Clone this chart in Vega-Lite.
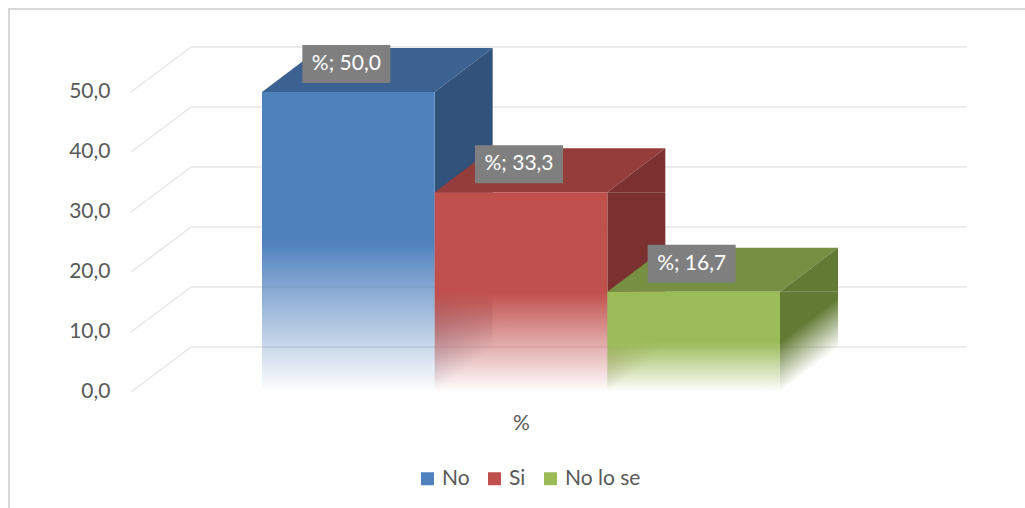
{
  "$schema": "https://vega.github.io/schema/vega-lite/v6.json",
  "width": 1018,
  "height": 501,
  "autosize": {"type": "none"},
  "padding": {"left": 9, "top": 9, "right": -2, "bottom": -2},
  "background": "white",
  "config": {
    "font": "Lato",
    "view": {"stroke": "#D9D9D9", "strokeWidth": 2},
    "axis": {
      "labelFont": "Lato", "titleFont": "Lato",
      "labelColor": "#595959", "titleColor": "#595959",
      "labelFontSize": 21, "titleFontSize": 21, "titleFontWeight": "normal",
      "grid": false, "domain": false, "ticks": false
    },
    "legend": {"labelFont": "Lato", "labelFontSize": 21, "labelColor": "#595959"}
  },
  "datasets": {
    "respuestas": [
      {"serie": "No", "valor": 50.0},
      {"serie": "Si", "valor": 33.3},
      {"serie": "No lo se", "valor": 16.7}
    ],
    "rejilla": [{"v": 0}, {"v": 10}, {"v": 20}, {"v": 30}, {"v": 40}, {"v": 50}]
  },
  "resolve": {"scale": {"x": "independent"}},
  "layer": [
    {
      "data": {"name": "rejilla"},
      "layer": [
        {
          "mark": {"type": "rule", "color": "#E6E6E6", "strokeWidth": 1.5, "y2Offset": -45},
          "encoding": {
            "x": {"datum": -0.7587, "type": "quantitative", "scale": {"domain": [-1.4652, 4.4304], "nice": false, "zero": false}, "axis": null},
            "x2": {"datum": -0.4112},
            "y": {"field": "v", "type": "quantitative", "scale": {"domain": [-19.6667, 63.8333], "nice": false, "zero": false},
                  "axis": {"values": [0, 10, 20, 30, 40, 50], "format": ".1f", "labelExpr": "replace(datum.label, '.', ',')", "title": null, "offset": -101, "labelPadding": 0}},
            "y2": {"field": "v"}
          }
        },
        {
          "mark": {"type": "rule", "color": "#E6E6E6", "strokeWidth": 1.5, "yOffset": -45, "y2Offset": -45},
          "encoding": {
            "x": {"datum": -0.4112, "type": "quantitative"},
            "x2": {"datum": 4.083},
            "y": {"field": "v", "type": "quantitative"},
            "y2": {"field": "v"}
          }
        }
      ]
    },
    {
      "data": {"name": "respuestas"},
      "transform": [{"calculate": "'%; ' + replace(format(datum.valor, '.1f'), '.', ',')", "as": "etiqueta"}],
      "encoding": {
        "x": {"field": "serie", "type": "nominal", "sort": ["No", "Si", "No lo se"],
              "scale": {"type": "band", "domain": ["No", "Si", "No lo se"], "paddingInner": 0, "paddingOuter": 0, "range": [253, 771]},
              "axis": {"orient": "bottom", "labels": false, "title": "%", "offset": -118, "titlePadding": 20}},
        "y": {"field": "valor", "type": "quantitative"}
      },
      "layer": [
        {
          "transform": [{"filter": "datum.serie === 'No'"}],
          "layer": [
            {"mark": {"type": "point", "shape": "M-86.33,0L86.33,0L144.33,-44L-28,-44Z", "size": 4, "filled": true, "opacity": 1, "color": "#3B6290", "strokeWidth": 0}},
            {"mark": {"type": "bar", "width": 58, "xOffset": 115.33, "y2Offset": -44,
                      "color": {"gradient": "linear", "x1": 0, "y1": 0, "x2": 0.1957, "y2": 1.1383, "stops": [{"offset": 0, "color": "#31527A"}, {"offset": 0.5, "color": "#31527A"}, {"offset": 1, "color": "rgba(49,82,122,0)"}]}},
             "encoding": {"y2": {"datum": 0}}},
            {"mark": {"type": "point", "shape": "M86.33,-44L86.33,0L144.33,-44Z", "size": 4, "filled": true, "opacity": 1, "strokeWidth": 0,
                      "color": {"gradient": "linear", "x1": 0, "y1": 0, "x2": 0.5, "y2": 0.5, "stops": [{"offset": 0, "color": "rgba(49,82,122,0.29)"}, {"offset": 1, "color": "rgba(49,82,122,0)"}]}},
             "encoding": {"y": {"datum": 0}}},
            {"mark": {"type": "point", "shape": "M86.33,0L144.33,-44L144.33,0Z", "size": 4, "filled": true, "opacity": 1, "color": "#31527A", "strokeWidth": 0}},
            {"mark": {"type": "bar",
                      "color": {"gradient": "linear", "x1": 0, "y1": 0, "x2": 0, "y2": 1, "stops": [{"offset": 0, "color": "#4F81BD"}, {"offset": 0.5, "color": "#4F81BD"}, {"offset": 1, "color": "rgba(79,129,189,0)"}]}},
             "encoding": {"y2": {"datum": 0}}}
          ]
        },
        {
          "transform": [{"filter": "datum.serie === 'Si'"}],
          "layer": [
            {"mark": {"type": "point", "shape": "M-86.33,0L86.33,0L144.33,-44L-28,-44Z", "size": 4, "filled": true, "opacity": 1, "color": "#943D3B", "strokeWidth": 0}},
            {"mark": {"type": "bar", "width": 58, "xOffset": 115.33, "y2Offset": -44,
                      "color": {"gradient": "linear", "x1": 0, "y1": 0, "x2": 0.3354, "y2": 1.1877, "stops": [{"offset": 0, "color": "#7A3130"}, {"offset": 0.5, "color": "#7A3130"}, {"offset": 1, "color": "rgba(122,49,48,0)"}]}},
             "encoding": {"y2": {"datum": 0}}},
            {"mark": {"type": "point", "shape": "M86.33,-44L86.33,0L144.33,-44Z", "size": 4, "filled": true, "opacity": 1, "strokeWidth": 0,
                      "color": {"gradient": "linear", "x1": 0, "y1": 0, "x2": 0.5, "y2": 0.5, "stops": [{"offset": 0, "color": "rgba(122,49,48,0.44)"}, {"offset": 1, "color": "rgba(122,49,48,0)"}]}},
             "encoding": {"y": {"datum": 0}}},
            {"mark": {"type": "point", "shape": "M86.33,0L144.33,-44L144.33,0Z", "size": 4, "filled": true, "opacity": 1, "color": "#7A3130", "strokeWidth": 0}},
            {"mark": {"type": "bar",
                      "color": {"gradient": "linear", "x1": 0, "y1": 0, "x2": 0, "y2": 1, "stops": [{"offset": 0, "color": "#C0504D"}, {"offset": 0.5, "color": "#C0504D"}, {"offset": 1, "color": "rgba(192,80,77,0)"}]}},
             "encoding": {"y2": {"datum": 0}}}
          ]
        },
        {
          "transform": [{"filter": "datum.serie === 'No lo se'"}],
          "layer": [
            {"mark": {"type": "point", "shape": "M-86.33,0L86.33,0L144.33,-44L-28,-44Z", "size": 4, "filled": true, "opacity": 1, "color": "#768F42", "strokeWidth": 0}},
            {"mark": {"type": "bar", "width": 58, "xOffset": 115.33, "y2Offset": -44,
                      "color": {"gradient": "linear", "x1": 0, "y1": 0, "x2": 0.8654, "y2": 1.1054, "stops": [{"offset": 0, "color": "#627A34"}, {"offset": 0.5, "color": "#627A34"}, {"offset": 1, "color": "rgba(98,122,52,0)"}]}},
             "encoding": {"y2": {"datum": 0}}},
            {"mark": {"type": "point", "shape": "M86.33,-44L86.33,0L144.33,-44Z", "size": 4, "filled": true, "opacity": 1, "strokeWidth": 0,
                      "color": {"gradient": "linear", "x1": 0, "y1": 0, "x2": 0.5, "y2": 0.5, "stops": [{"offset": 0, "color": "rgba(98,122,52,0.88)"}, {"offset": 1, "color": "rgba(98,122,52,0)"}]}},
             "encoding": {"y": {"datum": 0}}},
            {"mark": {"type": "point", "shape": "M86.33,0L144.33,-44L144.33,0Z", "size": 4, "filled": true, "opacity": 1, "color": "#627A34", "strokeWidth": 0}},
            {"mark": {"type": "bar",
                      "color": {"gradient": "linear", "x1": 0, "y1": 0, "x2": 0, "y2": 1, "stops": [{"offset": 0, "color": "#9BBB59"}, {"offset": 0.5, "color": "#9BBB59"}, {"offset": 1, "color": "rgba(155,187,89,0)"}]}},
             "encoding": {"y2": {"datum": 0}}}
          ]
        },
        {
          "mark": {"type": "bar", "width": 88, "xOffset": -2, "yOffset": -9, "y2Offset": -47, "color": "#7F7F7F"},
          "encoding": {"y2": {"field": "valor"}}
        },
        {
          "mark": {"type": "text", "color": "white", "fontSize": 21, "font": "Lato", "dx": -2, "dy": -28, "baseline": "middle", "align": "center"},
          "encoding": {"text": {"field": "etiqueta"}}
        },
        {
          "mark": {"type": "point", "filled": true, "opacity": 0, "size": 1},
          "encoding": {
            "color": {"field": "serie", "type": "nominal", "sort": ["No", "Si", "No lo se"],
                      "scale": {"domain": ["No", "Si", "No lo se"], "range": ["#4F81BD", "#C0504D", "#9BBB59"]},
                      "legend": {"orient": "none", "legendX": 408, "legendY": 459, "direction": "horizontal", "title": null,
                                 "symbolType": "square", "symbolSize": 169, "symbolOpacity": 1, "symbolStrokeWidth": 0,
                                 "labelOffset": 4, "columnPadding": 14, "labelFontSize": 21, "labelColor": "#595959"}}
          }
        }
      ]
    }
  ]
}
